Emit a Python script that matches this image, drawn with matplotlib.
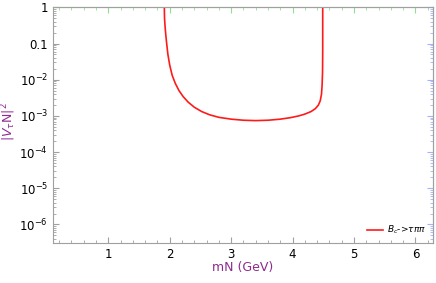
import numpy as np
import matplotlib
matplotlib.use("Agg")
from matplotlib import pyplot as plt
from matplotlib.ticker import MultipleLocator, LogLocator, NullFormatter

# curve: heavy neutrino mass (GeV) and log10 |V_tauN|^2
mN = [1.910, 1.915, 1.925, 1.935, 1.950, 1.970, 2.000, 2.040, 2.090, 2.150,
      2.220, 2.300, 2.400, 2.520, 2.650, 2.800, 3.000, 3.200, 3.400, 3.600,
      3.800, 3.960, 4.100, 4.200, 4.300, 4.370, 4.420, 4.450, 4.470, 4.480,
      4.487, 4.490, 4.490]
log_v2 = [0.20, -0.30, -0.55, -0.75, -1.00, -1.30, -1.60, -1.88, -2.10, -2.30,
          -2.47, -2.62, -2.76, -2.88, -2.97, -3.04, -3.09, -3.12, -3.13, -3.12,
          -3.09, -3.05, -3.00, -2.95, -2.88, -2.80, -2.70, -2.58, -2.40, -2.15,
          -1.80, -1.20, 0.20]
v2 = [10.0 ** e for e in log_v2]

y_ticks = [1, 0.1, 1e-2, 1e-3, 1e-4, 1e-5, 1e-6]
y_labels = ["1", "0.1", "$10^{-2}$", "$10^{-3}$", "$10^{-4}$", "$10^{-5}$", "$10^{-6}$"]
x_ticks = [1, 2, 3, 4, 5, 6]

purple = "#8e2a8e"
frame = "#a0a0a0"

fig = plt.figure(figsize=(4.36, 2.83), dpi=100)
ax = fig.add_axes([0.1216, 0.143, 0.8708, 0.831])

ax.plot(mN, v2, color="#ff1a1a", lw=1.2, label=r"$B_c$->$\tau\pi\pi$")

ax.set_yscale("log")
ax.set_xlim(0.1, 6.28)
ax.set_ylim(10 ** -6.5, 1)

ax.set_xticks(x_ticks)
ax.set_xticklabels([str(t) for t in x_ticks])
ax.xaxis.set_minor_locator(MultipleLocator(0.2))
ax.set_yticks(y_ticks)
ax.set_yticklabels(y_labels)
ax.yaxis.set_minor_locator(LogLocator(base=10, subs=np.arange(2, 10)))
ax.yaxis.set_minor_formatter(NullFormatter())

for s in ax.spines.values():
    s.set_color(frame)
    s.set_linewidth(0.8)

ax.tick_params(which="both", direction="in", color=frame, labelsize=8.5, labelcolor="black")
ax.tick_params(which="major", length=4, width=0.8)
ax.tick_params(which="minor", length=2, width=0.6)
ax.tick_params(axis="x", pad=4)

# coloured frame ticks on top and right
top = ax.secondary_xaxis("top")
top.set_xticks(x_ticks)
top.xaxis.set_minor_locator(MultipleLocator(0.2))
top.tick_params(which="both", direction="in", color="#8fe08f", labeltop=False)
top.tick_params(which="major", length=4, width=0.8)
top.tick_params(which="minor", length=2, width=0.6)
top.spines["top"].set_color(frame)

right = ax.secondary_yaxis("right")
right.set_yticks(y_ticks)
right.yaxis.set_minor_locator(LogLocator(base=10, subs=np.arange(2, 10)))
right.yaxis.set_minor_formatter(NullFormatter())
right.tick_params(which="both", direction="in", color="#a8b0ff", labelright=False)
right.tick_params(which="major", length=4, width=0.8)
right.tick_params(which="minor", length=2, width=0.6)
right.spines["right"].set_color(frame)

ax.set_xlabel("mN (GeV)", color=purple, fontsize=9, labelpad=0)
fig.text(9 / 436, 1 - 122 / 283, r"|$V_\tau$N|$^2$", color=purple, fontsize=9,
         rotation=90, ha="center", va="center")

ax.legend(loc="lower right", frameon=False, fontsize=6.5, handlelength=1.8,
          borderaxespad=0.3, handletextpad=0.5)

fig.savefig("out.png", dpi=100)
